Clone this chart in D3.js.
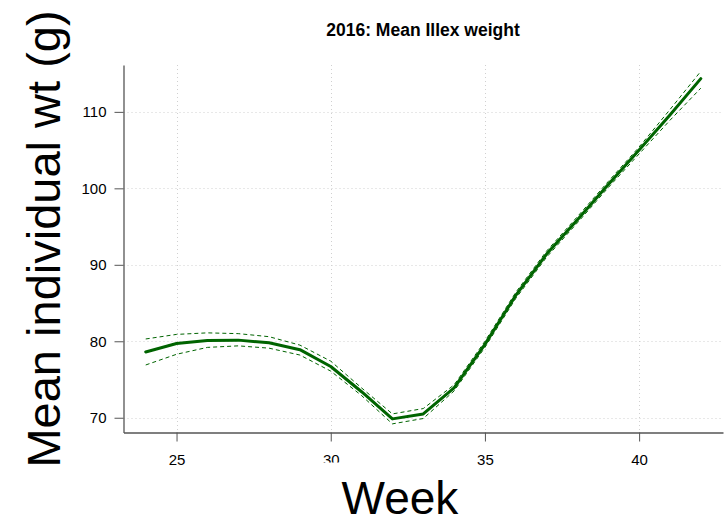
<!DOCTYPE html>
<html>
<head>
<meta charset="utf-8">
<script src="https://cdn.jsdelivr.net/npm/d3@7"></script>
<style>
  html, body { margin: 0; padding: 0; background: #fff; }
  svg { display: block; font-family: "Liberation Sans", Arial, Helvetica, sans-serif; }
</style>
</head>
<body>
<svg id="chart" width="726" height="517"></svg>
<script>
// Weekly mean individual weight of Illex, 2016, with confidence band
const weeks = [24, 25, 26, 27, 28, 29, 30, 31, 32, 33, 34, 35, 36, 37, 38, 39, 40, 41, 42];
const meanWt = [78.6, 79.7, 80.1, 80.15, 79.8, 78.9, 76.7, 73.4, 69.85, 70.5, 73.9, 79.6, 86.0, 91.4, 95.9, 100.5, 105.0, 109.6, 114.35];
const lowerWt = [76.9, 78.3, 79.2, 79.4, 79.1, 78.2, 76.1, 72.9, 69.2, 69.9, 73.5, 79.2, 85.6, 91.0, 95.5, 100.1, 104.5, 108.9, 113.1];
const upperWt = [80.3, 80.9, 81.1, 81.0, 80.6, 79.5, 77.4, 73.9, 70.5, 71.2, 74.3, 80.0, 86.4, 91.8, 96.3, 100.9, 105.4, 110.3, 115.3];
const xTicks = [25, 30, 35, 40];
const yTicks = [70, 80, 90, 100, 110];
const titleText = "2016: Mean Illex weight";
const xLabel = "Week";
const yLabel = "Mean individual wt (g)";

const svg = d3.select("#chart");
const plot = { left: 123.5, right: 723, top: 65, bottom: 432.5 };

// pad the data range by 4% on each side
function padded(ext) {
  const r = ext[1] - ext[0];
  return [ext[0] - 0.04 * r, ext[1] + 0.04 * r];
}

const x = d3.scaleLinear().domain(padded(d3.extent(weeks))).range([plot.left, plot.right]);
const y = d3.scaleLinear().domain(padded(d3.extent(meanWt))).range([plot.bottom, plot.top]);

svg.append("rect").attr("width", 726).attr("height", 517).attr("fill", "#fff");

// dotted grid
const grid = svg.append("g").attr("stroke", "#d0d0d0").attr("stroke-width", 1).attr("stroke-dasharray", "1,3");
grid.selectAll("line.v").data(xTicks).join("line")
  .attr("class", "v")
  .attr("x1", d => Math.round(x(d)) + 0.5).attr("x2", d => Math.round(x(d)) + 0.5)
  .attr("y1", plot.top).attr("y2", plot.bottom);
grid.selectAll("line.h").data(yTicks).join("line")
  .attr("class", "h")
  .attr("y1", d => Math.round(y(d)) + 0.5).attr("y2", d => Math.round(y(d)) + 0.5)
  .attr("x1", plot.left).attr("x2", plot.right);

// series
const line = (vals) => d3.line().x((d, i) => x(weeks[i])).y(d => y(d))(vals);
const green = "#006400";

svg.append("path").attr("d", line(lowerWt))
  .attr("fill", "none").attr("stroke", green).attr("stroke-width", 1)
  .attr("stroke-dasharray", "4,3");
svg.append("path").attr("d", line(upperWt))
  .attr("fill", "none").attr("stroke", green).attr("stroke-width", 1)
  .attr("stroke-dasharray", "4,3");
svg.append("path").attr("d", line(meanWt))
  .attr("fill", "none").attr("stroke", green).attr("stroke-width", 3)
  .attr("stroke-linejoin", "round").attr("stroke-linecap", "round");

// axes
const axisColor = "#555";
const xAxis = svg.append("g")
  .attr("transform", `translate(0,${plot.bottom})`)
  .call(d3.axisBottom(x).tickValues(xTicks).tickSize(9).tickSizeOuter(0).tickPadding(13));
const yAxis = svg.append("g")
  .attr("transform", `translate(${plot.left},0)`)
  .call(d3.axisLeft(y).tickValues(yTicks).tickSize(9).tickSizeOuter(0).tickPadding(8));

[xAxis, yAxis].forEach(g => {
  g.select(".domain").attr("stroke", axisColor).attr("stroke-width", 1.3);
  g.selectAll(".tick line").attr("stroke", axisColor).attr("stroke-width", 1);
  g.selectAll(".tick text").attr("fill", "#000").attr("font-size", 15)
    .attr("font-family", "'Liberation Sans', Arial, sans-serif");
});

// title
svg.append("text")
  .attr("x", 423).attr("y", 36)
  .attr("text-anchor", "middle")
  .attr("font-size", 17.5).attr("font-weight", "bold")
  .attr("fill", "#000")
  .text(titleText);

// x axis title with its white backing box
svg.append("rect").attr("x", 318).attr("y", 462.5).attr("width", 158).attr("height", 55).attr("fill", "#fff");
svg.append("text")
  .attr("x", 400).attr("y", 514)
  .attr("text-anchor", "middle")
  .attr("font-size", 46)
  .attr("fill", "#000")
  .text(xLabel);

// y axis title
svg.append("text")
  .attr("transform", "translate(60,239) rotate(-90)")
  .attr("text-anchor", "middle")
  .attr("font-size", 47)
  .attr("fill", "#000")
  .text(yLabel);
</script>
</body>
</html>
